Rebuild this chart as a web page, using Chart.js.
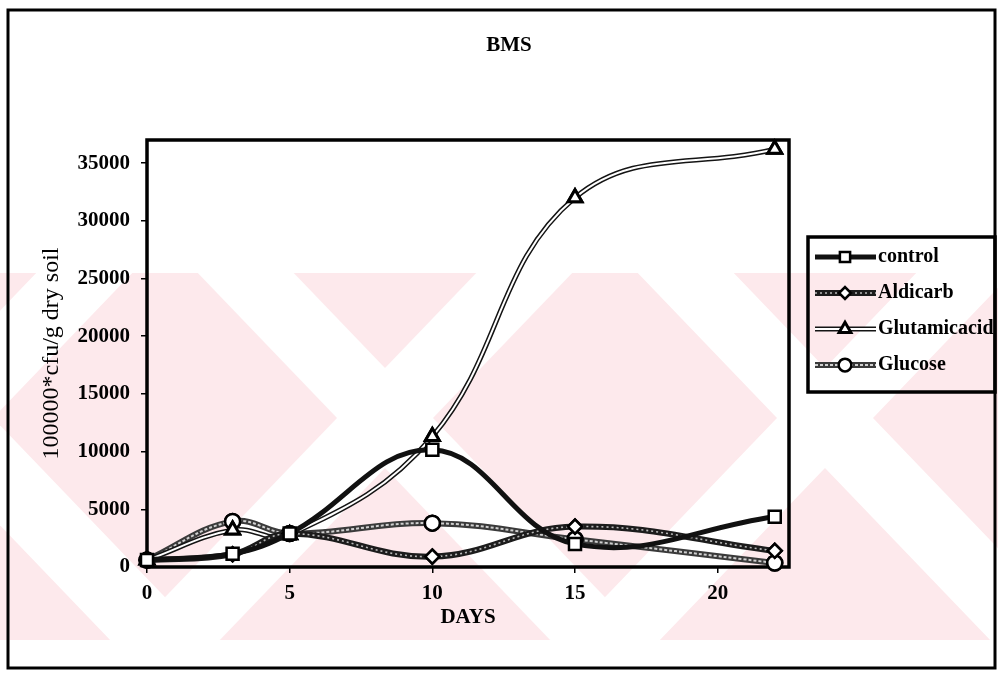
<!DOCTYPE html>
<html>
<head>
<meta charset="utf-8">
<title>BMS</title>
<script src="https://cdn.jsdelivr.net/npm/chart.js@4/dist/chart.umd.min.js"></script>
<style>
  html, body { margin: 0; padding: 0; background: #ffffff; }
  #wrap { width: 998px; height: 676px; position: relative; }
</style>
</head>
<body>
<div id="wrap"><canvas id="chart" width="998" height="676"></canvas></div>
<script>
// Sampling days
const days = [0, 3, 5, 10, 15, 22];

// Bacterial counts (100000*cfu/g dry soil) per treatment
const control      = [600, 1150, 2900, 10150, 2000, 4350];
const aldicarb     = [600, 1100, 2900, 900, 3500, 1400];
const glutamicacid = [600, 3200, 2800, 11300, 32000, 36200];
const glucose      = [600, 3950, 2900, 3800, 2400, 350];

// Axis tick labels
const xTickValues = [0, 5, 10, 15, 20];
const yTickValues = [0, 5000, 10000, 15000, 20000, 25000, 30000, 35000];

const SERIF = "'Liberation Serif', 'Times New Roman', serif";

function pts(values) {
  return days.map((d, i) => ({ x: d, y: values[i] }));
}

const datasets = [
  {
    label: 'control', data: pts(control),
    borderColor: '#111111', borderWidth: 5,
    pointStyle: 'rect', pointRadius: 8.5, pointBorderWidth: 2.5
  },
  {
    label: 'Aldicarb', data: pts(aldicarb),
    borderColor: '#1c1c1c', borderWidth: 6,
    inner: { color: '#b8b8b8', width: 1.6, dash: [2, 3] },
    pointStyle: 'rectRot', pointRadius: 7, pointBorderWidth: 2.5
  },
  {
    label: 'Glutamicacid', data: pts(glutamicacid),
    borderColor: '#141414', borderWidth: 5,
    inner: { color: '#ffffff', width: 2, dash: [] },
    pointStyle: 'triangle', pointRadius: 8, pointBorderWidth: 3
  },
  {
    label: 'Glucose', data: pts(glucose),
    borderColor: '#3a3a3a', borderWidth: 6,
    inner: { color: '#d0d0d0', width: 2, dash: [3, 2] },
    pointStyle: 'circle', pointRadius: 7.5, pointBorderWidth: 2.5
  }
].map(ds => Object.assign({
  tension: 0.4,
  fill: false,
  clip: false,
  pointBackgroundColor: '#ffffff',
  pointBorderColor: '#000000',
  pointHoverRadius: 8
}, ds));

// Pale background pattern of diagonal bands
function drawBackdrop(ctx) {
  const top = 273, bottom = 640;
  ctx.save();
  ctx.beginPath();
  ctx.rect(0, top, 998, bottom - top);
  ctx.clip();
  ctx.fillStyle = '#fde9ec';
  ctx.fillRect(0, top, 998, bottom - top);
  ctx.fillStyle = '#ffffff';
  const cy = 418, slope = 0.96, half = 48;
  [-55, 385, 825, 1265].forEach(cx => {
    [slope, -slope].forEach(s => {
      const xt = cx + (top - cy) * s, xb = cx + (bottom - cy) * s;
      ctx.beginPath();
      ctx.moveTo(xt - half, top);
      ctx.lineTo(xt + half, top);
      ctx.lineTo(xb + half, bottom);
      ctx.lineTo(xb - half, bottom);
      ctx.closePath();
      ctx.fill();
    });
  });
  ctx.restore();
}

function strokeInner(ctx, inner, pathFn) {
  ctx.save();
  ctx.beginPath();
  pathFn();
  ctx.lineWidth = inner.width;
  ctx.strokeStyle = inner.color;
  ctx.setLineDash(inner.dash);
  ctx.lineCap = 'butt';
  ctx.lineJoin = 'round';
  ctx.stroke();
  ctx.restore();
}

const decor = {
  id: 'decor',
  beforeDraw(chart) {
    drawBackdrop(chart.ctx);
  },
  beforeDatasetsDraw(chart) {
    const { ctx, chartArea: a } = chart;
    ctx.save();
    ctx.lineWidth = 3.5;
    ctx.strokeStyle = '#000000';
    ctx.strokeRect(a.left, a.top, a.right - a.left, a.bottom - a.top);
    ctx.restore();
  },
  afterDatasetDraw(chart, args) {
    const ds = chart.data.datasets[args.index];
    const meta = args.meta;
    if (!ds.inner) return;
    const ctx = chart.ctx;
    strokeInner(ctx, ds.inner, () => meta.dataset.path(ctx));
    meta.data.forEach(p => p.draw(ctx, chart.chartArea));
  },
  afterDraw(chart) {
    const ctx = chart.ctx;
    ctx.save();
    // title
    ctx.fillStyle = '#000000';
    ctx.font = `bold 21px ${SERIF}`;
    ctx.textAlign = 'center';
    ctx.textBaseline = 'middle';
    ctx.fillText('BMS', 509, 46);

    // legend box
    const box = { x: 808, y: 237, w: 187, h: 155 };
    ctx.lineWidth = 3.5;
    ctx.strokeStyle = '#000000';
    ctx.strokeRect(box.x, box.y, box.w, box.h);
    chart.data.datasets.forEach((ds, i) => {
      const y = 257 + i * 36;
      const x0 = 815, x1 = 876, xm = 845;
      ctx.save();
      ctx.beginPath();
      ctx.moveTo(x0, y);
      ctx.lineTo(x1, y);
      ctx.lineWidth = ds.borderWidth;
      ctx.strokeStyle = ds.borderColor;
      ctx.stroke();
      ctx.restore();
      if (ds.inner) {
        strokeInner(ctx, ds.inner, () => { ctx.moveTo(x0, y); ctx.lineTo(x1, y); });
      }
      ctx.save();
      ctx.fillStyle = '#ffffff';
      ctx.strokeStyle = '#000000';
      ctx.lineWidth = ds.pointBorderWidth;
      Chart.helpers.drawPoint(ctx, {
        pointStyle: ds.pointStyle, rotation: 0,
        radius: ds.pointRadius * 0.85, borderWidth: ds.pointBorderWidth
      }, xm, y);
      ctx.restore();
      ctx.fillStyle = '#000000';
      ctx.font = `bold 20px ${SERIF}`;
      ctx.textAlign = 'left';
      ctx.textBaseline = 'middle';
      ctx.fillText(ds.label, 878, y);
    });

    // outer frame
    ctx.lineWidth = 3;
    ctx.strokeStyle = '#000000';
    ctx.strokeRect(8, 10, 987, 658);
    ctx.restore();
  }
};

new Chart(document.getElementById('chart'), {
  type: 'line',
  data: { datasets },
  plugins: [decor],
  options: {
    responsive: false,
    animation: false,
    devicePixelRatio: 1,
    layout: { padding: { left: 10, top: 140, right: 209, bottom: 0 } },
    plugins: {
      legend: { display: false },
      title: { display: false },
      tooltip: { enabled: false }
    },
    scales: {
      x: {
        type: 'linear',
        min: 0,
        max: 22.5,
        afterBuildTicks(scale) {
          scale.ticks = xTickValues.map(v => ({ value: v }));
        },
        afterFit(scale) { scale.height = 109; },
        border: { display: false },
        grid: {
          drawOnChartArea: false, drawTicks: true, tickLength: 6,
          color: '#000000', lineWidth: 1.5
        },
        ticks: {
          color: '#000000', padding: 8, maxRotation: 0,
          callback: v => String(v),
          font: { family: SERIF, size: 21, weight: 'bold' }
        },
        title: {
          display: true, text: 'DAYS', color: '#000000',
          padding: { top: 0, bottom: 46 },
          font: { family: SERIF, size: 21, weight: 'bold' }
        }
      },
      y: {
        type: 'linear',
        min: 0,
        max: 37000,
        afterBuildTicks(scale) {
          scale.ticks = yTickValues.map(v => ({ value: v }));
        },
        afterFit(scale) { scale.width = 137; },
        border: { display: false },
        grid: {
          drawOnChartArea: false, drawTicks: true, tickLength: 6,
          color: '#000000', lineWidth: 1.5
        },
        ticks: {
          color: '#000000', padding: 11,
          callback: v => String(v),
          font: { family: SERIF, size: 21, weight: 'bold' }
        },
        title: {
          display: true, text: '100000*cfu/g dry soil', color: '#000000',
          padding: { top: 27, bottom: 0 },
          font: { family: SERIF, size: 24 }
        }
      }
    }
  }
});
</script>
</body>
</html>
